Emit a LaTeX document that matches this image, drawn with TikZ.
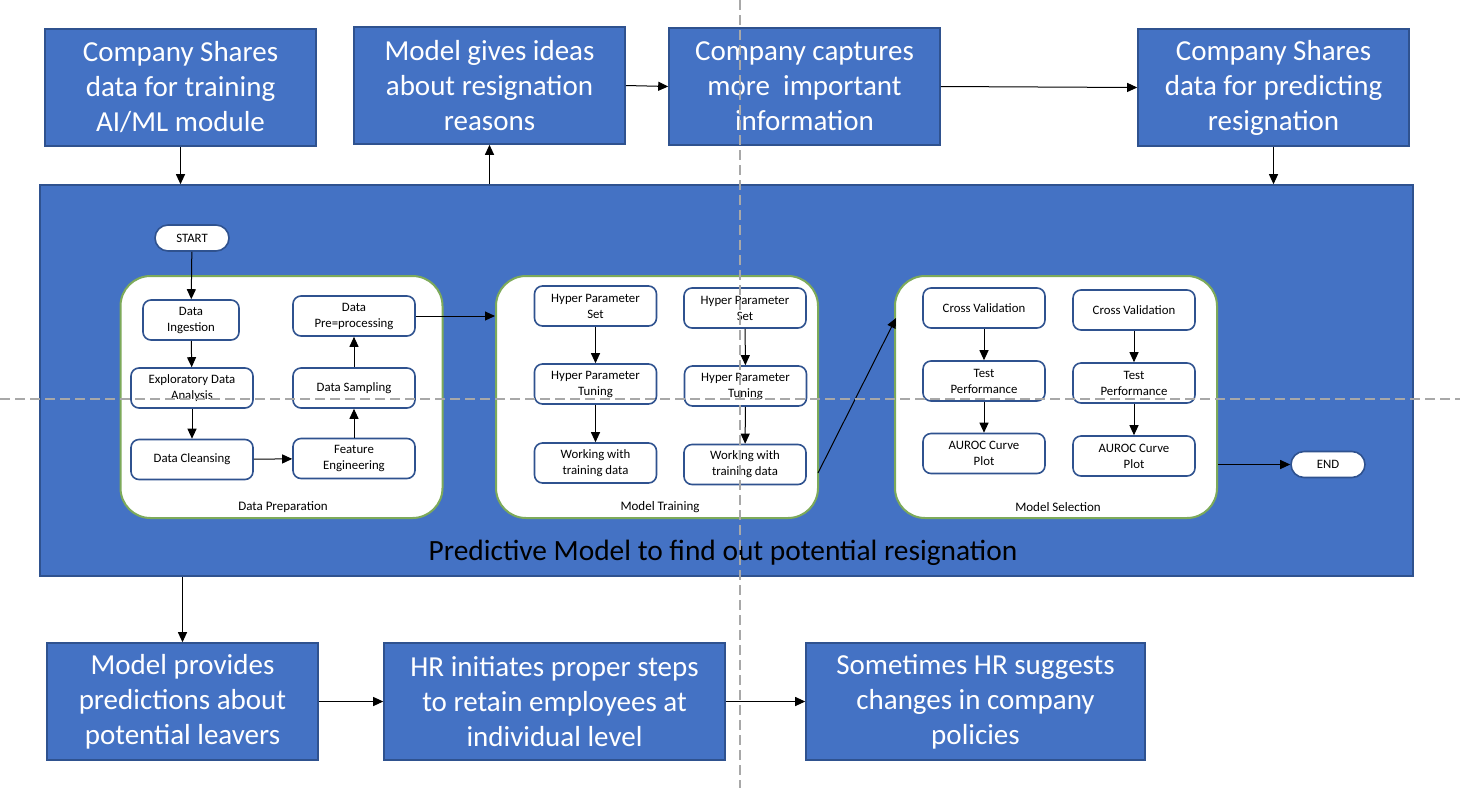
\documentclass[tikz,border=0pt]{standalone}
\usepackage{fontspec}
\setmainfont{Carlito}
\usetikzlibrary{arrows.meta,positioning,calc}
\definecolor{boxblue}{RGB}{68,114,196}
\definecolor{edgeblue}{RGB}{47,82,143}
\definecolor{panelgreen}{RGB}{125,170,90}
\definecolor{guidegray}{RGB}{168,168,168}

\begin{document}
\begin{tikzpicture}[x=0.5pt,y=-0.5pt,
  bigbox/.style={draw=edgeblue,fill=boxblue,text=white,line width=0.8pt,minimum width=135.5pt,minimum height=58.5pt,align=center,font=\fontsize{14.5}{17.5}\selectfont},
  panel/.style={draw=panelgreen,fill=white,line width=1pt,rounded corners=15pt,minimum width=161pt,minimum height=121pt},
  stepbox/.style={draw=edgeblue,fill=white,line width=0.8pt,rounded corners=4pt,minimum width=61pt,minimum height=20pt,inner sep=1pt,align=center,font=\fontsize{6.4}{8}\selectfont},
  pill/.style={draw=edgeblue,fill=white,line width=0.8pt,rounded corners=6.5pt,minimum width=37pt,minimum height=13pt,font=\fontsize{6.4}{8}\selectfont},
  paneltext/.style={font=\fontsize{6.5}{8}\selectfont},
  arr/.style={-{Triangle[length=5pt,width=4.5pt]},line width=0.5pt},
  guide/.style={draw=guidegray,line width=1pt,dash pattern=on 5pt off 2.5pt}
]
\fill[white] (0,0) rectangle (1460,788);
\useasboundingbox (0,0) rectangle (1460,788);

% top row
\node[bigbox] at (180.5,87.5) (T1) {Company Shares\\data for training\\AI/ML module};
\node[bigbox] at (489.5,85.5) (T2) {Model gives ideas\\about resignation\\reasons};
\node[bigbox] at (804.5,86.5) (T3) {Company captures\\more\ \ important\\information};
\node[bigbox] at (1273.5,87.5) (T4) {Company Shares\\data for predicting\\resignation};

% main model box
\node[draw=edgeblue,fill=boxblue,line width=0.8pt,minimum width=686.5pt,minimum height=195.5pt] at (726.5,380.5) (M) {};
\node[font=\fontsize{14.7}{17}\selectfont] at (723,553) (Mtext) {Predictive Model to find out potential resignation};

% bottom row
\node[bigbox] at (182.5,701.5) (B1) {Model provides\\predictions about\\potential leavers};
\node[bigbox,minimum width=170.5pt] at (554.5,701.5) (B2) {HR initiates proper steps\\to retain employees at\\individual level};
\node[bigbox,minimum width=169.5pt] at (975.5,701.5) (B3) {Sometimes HR suggests\\changes in company\\policies};

% panels
\node[panel] at (281.5,397) (P1) {};
\node[panel] at (657,397) (P2) {};
\node[panel] at (1056,397) (P3) {};
\node[paneltext] at (283,507) (P1l) {Data Preparation};
\node[paneltext] at (660,507) (P2l) {Model Training};
\node[paneltext] at (1058,507) (P3l) {Model Selection};

\node[pill] at (192,238) (S) {START};
\node[pill] at (1328,464.5) (E) {END};

% data preparation
\node[stepbox,minimum width=48pt] at (191,320) (DI) {Data\\Ingestion};
\node[stepbox] at (192,388) (EDA) {Exploratory Data\\Analysis};
\node[stepbox] at (192,459.5) (DC) {Data Cleansing};
\node[stepbox] at (354,458.5) (FE) {Feature\\Engineering};
\node[stepbox] at (354,388) (DS) {Data Sampling};
\node[stepbox] at (354,316) (DP) {Data\\Pre=processing};

% model training
\node[stepbox] at (595.5,306) (HS1) {Hyper Parameter\\Set};
\node[stepbox] at (595.5,384) (HT1) {Hyper Parameter\\Tuning};
\node[stepbox] at (595.5,463) (WT1) {Working with\\training data};
\node[stepbox] at (745,308) (HS2) {Hyper Parameter\\Set};
\node[stepbox] at (745.5,386) (HT2) {Hyper Parameter\\Tuning};
\node[stepbox] at (745,464.5) (WT2) {Working with\\training data};

% model selection
\node[stepbox] at (984,308) (CV1) {Cross Validation};
\node[stepbox] at (984,381) (TP1) {Test\\Performance};
\node[stepbox] at (984,453.5) (AU1) {AUROC Curve\\Plot};
\node[stepbox] at (1134,310) (CV2) {Cross Validation};
\node[stepbox] at (1134,383) (TP2) {Test\\Performance};
\node[stepbox] at (1134,456) (AU2) {AUROC Curve\\Plot};

\coordinate (c1) at (818,473);
\coordinate (c2) at (896,318);

\path[arr]
(T1.south) edge (T1.south |- M.north)
(T2.south |- M.north) edge (T2.south)
(T2.east) edge (T3.west)
(T3.east) edge (T4.west)
(T4.south) edge (T4.south |- M.north)
(B1.north |- M.south) edge (B1.north)
(B1.east) edge (B2.west)
(B2.east) edge (B3.west);

\path[arr]
(S) edge (DI)
(DI) edge (EDA)
(EDA) edge (DC)
(DC) edge (FE)
(FE) edge (DS)
(DS) edge (DP)
(DP.east) edge (DP.east -| P2.west)
(HS1) edge (HT1)
(HT1) edge (WT1)
(HS2) edge (HT2)
(HT2) edge (WT2)
(c1) edge (c2)
(CV1) edge (TP1)
(TP1) edge (AU1)
(CV2) edge (TP2)
(TP2) edge (AU2)
(P3.east |- E) edge (E);

% guide lines
\draw[guide] (740,0) -- (740,788);
\draw[guide] (0,399) -- (1460,399);

\end{tikzpicture}
\end{document}
